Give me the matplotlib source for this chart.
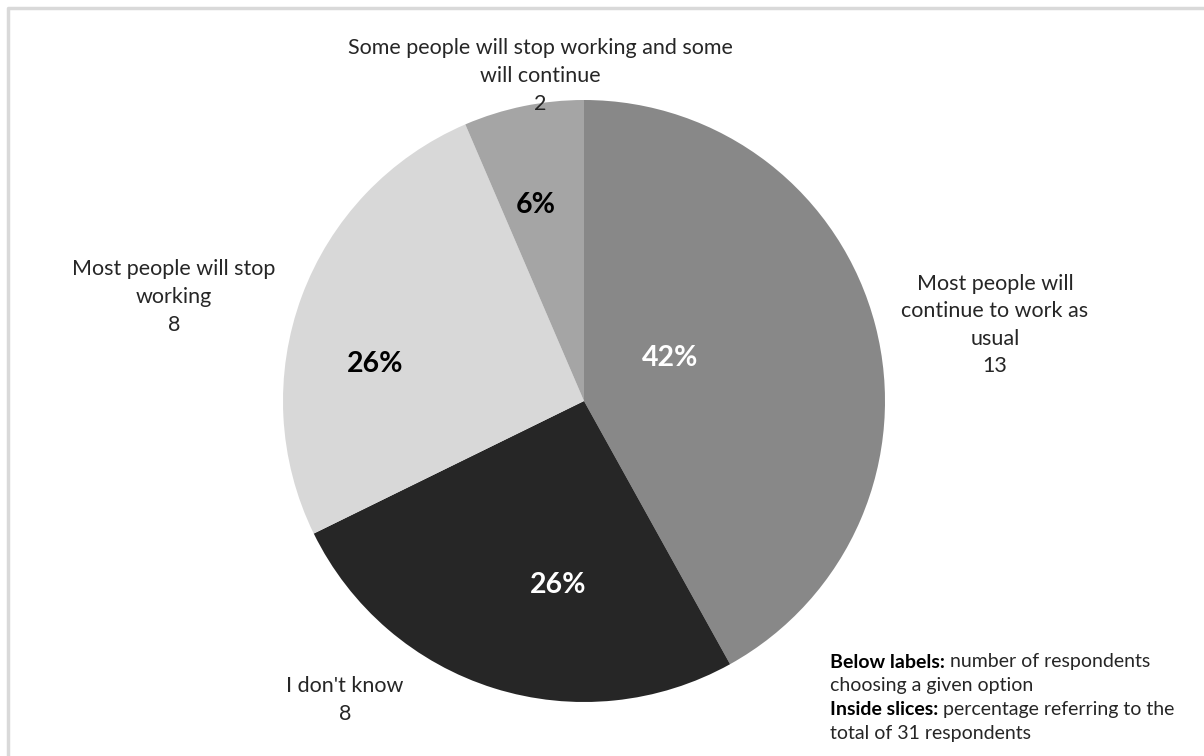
import matplotlib.pyplot as plt

plt.rcParams['font.family'] = ['Lato', 'DejaVu Sans']

# data
labels = ['Most people will\ncontinue to work as\nusual', "I don't know",
          'Most people will stop\nworking', 'Some people will stop working and some\nwill continue']
counts = [13, 8, 8, 2]
colors = ['#888888', '#262626', '#d8d8d8', '#a5a5a5']
pct_colors = ['white', 'white', 'black', 'black']
total = 31

# layout (pixel positions, y measured from top)
pct_pos = [(670, 358), (558, 585), (375, 364), (536, 205)]
lab_pos = [(995, 325), (345, 700), (174, 297), (540, 76)]

W, H = 1204, 756
fig = plt.figure(figsize=(W / 100, H / 100), dpi=100)
ax = fig.add_axes([0, 0, 1, 1])

ax.pie(counts, colors=colors, startangle=90, counterclock=False,
       center=(584, H - 401), radius=301, wedgeprops=dict(linewidth=0))

ax.set_xlim(0, W)
ax.set_ylim(0, H)
ax.set_aspect('equal')
ax.axis('off')

# light frame (top and left visible)
ax.plot([8, 8, W + 5], [-5, H - 8, H - 8], color='#d9d9d9', lw=2.5, solid_capstyle='butt')

for c, col, (x, y) in zip(counts, pct_colors, pct_pos):
    ax.text(x, H - y, '%d%%' % round(100 * c / total), color=col, fontsize=20.5,
            fontweight='bold', ha='center', va='center')

for lab, c, (x, y) in zip(labels, counts, lab_pos):
    ax.text(x, H - y, '%s\n%d' % (lab, c), color='#262626', fontsize=15.5,
            ha='center', va='center', linespacing=1.47)

# note
note = [('Below labels:', ' number of respondents'), ('', 'choosing a given option'),
        ('Inside slices:', ' percentage referring to the'), ('', 'total of 31 respondents')]
y0 = H - 662
for i, (b, n) in enumerate(note):
    y = y0 - i * 23.7
    if b:
        t = ax.text(830, y, b, fontsize=14, fontweight='bold', color='black',
                    ha='left', va='center')
        ax.annotate(n, xy=(1, 0.5), xycoords=t, fontsize=14, color='#262626',
                    ha='left', va='center')
    else:
        ax.text(830, y, n, fontsize=14, color='#262626', ha='left', va='center')

fig.savefig('out.png', dpi=100)
